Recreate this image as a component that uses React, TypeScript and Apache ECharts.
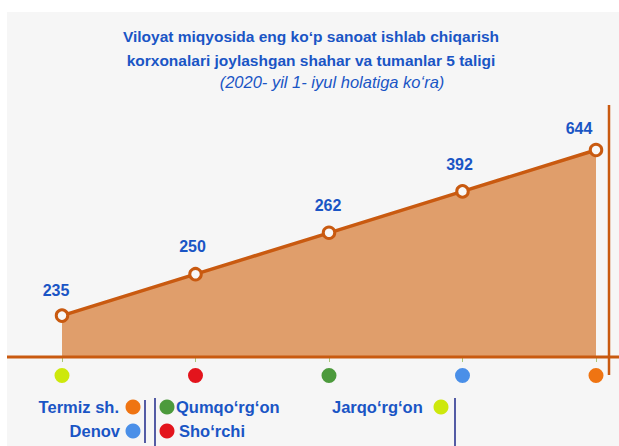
import React, { useEffect, useRef } from "react";
import * as echarts from "echarts";

const categories = ["Jarqo‘rg‘on", "Sho‘rchi", "Qumqo‘rg‘on", "Denov", "Termiz sh."];
const values = [235, 250, 262, 392, 644];
const dotColors = ["#cde80c", "#e3141c", "#4c9a3c", "#4a8fe8", "#ef7412"];
const titleLines = [
  "Viloyat miqyosida eng ko‘p sanoat ishlab chiqarish",
  "korxonalari joylashgan shahar va tumanlar 5 taligi",
];
const subTitle = "(2020- yil 1- iyul holatiga ko‘ra)";

// label nudges (style only)
const labelOffsets = [
  [-6, 2],
  [-3, 0],
  [-1, 0],
  [-3, 0],
  [-17, 6],
];

const FONT = "'Liberation Sans', Arial, sans-serif";
const BLUE = "#1a55c5";
const LINE = "#c95a10";
const NAVY = "#2b3591";

export default function App() {
  const ref = useRef<HTMLDivElement>(null);
  useEffect(() => {
    if (!ref.current) return;
    const chart = echarts.init(ref.current, undefined, { renderer: "svg" });
    const colorOf = (name: string) => dotColors[categories.indexOf(name)];

    const legendRows = [
      { name: "Termiz sh.", tx: 119, cx: 133, y: 407, align: "right" },
      { name: "Denov", tx: 120, cx: 133, y: 431, align: "right" },
      { name: "Qumqo‘rg‘on", tx: 176, cx: 167, y: 407, align: "left" },
      { name: "Sho‘rchi", tx: 179, cx: 167, y: 431, align: "left" },
      { name: "Jarqo‘rg‘on", tx: 332, cx: 441, y: 407, align: "left" },
    ];
    const graphics: any[] = [];
    titleLines.forEach((t, i) => {
      graphics.push({
        type: "text",
        x: 311,
        y: 36 + i * 24,
        z: 10,
        style: {
          text: t,
          fill: BLUE,
          font: `bold 15.5px ${FONT}`,
          textAlign: "center",
          textVerticalAlign: "middle",
        },
      });
    });
    graphics.push({
      type: "text",
      x: 332,
      y: 82,
      z: 10,
      style: {
        text: subTitle,
        fill: BLUE,
        font: `italic 16.5px ${FONT}`,
        textAlign: "center",
        textVerticalAlign: "middle",
      },
    });
    legendRows.forEach((r) => {
      graphics.push({
        type: "text",
        x: r.tx,
        y: r.y,
        z: 10,
        style: {
          text: r.name,
          fill: BLUE,
          font: `bold 16.5px ${FONT}`,
          textAlign: r.align,
          textVerticalAlign: "middle",
        },
      });
      graphics.push({
        type: "circle",
        z: 10,
        shape: { cx: r.cx, cy: r.y, r: 7.5 },
        style: { fill: colorOf(r.name) },
      });
    });
    [
      [145, 400, 443],
      [155, 398, 446],
      [455, 398, 446],
    ].forEach(([x, y1, y2]) =>
      graphics.push({
        type: "line",
        z: 10,
        shape: { x1: x, y1, x2: x, y2 },
        style: { stroke: NAVY, lineWidth: 1.6 },
      })
    );
    graphics.push({
      type: "line",
      z: 10,
      shape: { x1: 7, y1: 357, x2: 619, y2: 357 },
      style: { stroke: LINE, lineWidth: 3 },
    });
    graphics.push({
      type: "line",
      z: 10,
      shape: { x1: 609, y1: 105, x2: 609, y2: 375 },
      style: { stroke: LINE, lineWidth: 2.5 },
    });

    const rich: any = {};
    dotColors.forEach((c, i) => {
      rich["c" + i] = { width: 15, height: 15, borderRadius: 7.5, backgroundColor: c };
    });

    chart.setOption({
      animation: false,
      backgroundColor: "transparent",
      grid: { left: 62, right: 23, top: 150, bottom: 89 },
      xAxis: {
        type: "category",
        data: categories,
        boundaryGap: false,
        axisLine: { show: false },
        axisTick: { show: true, length: 5, lineStyle: { color: "#a9c77a", width: 1 } },
        axisLabel: {
          margin: 11,
          interval: 0,
          formatter: (_v: string, i: number) => `{c${i}| }`,
          rich,
        },
        splitLine: { show: false },
      },
      yAxis: {
        type: "category",
        data: ["", ...values.map(String)],
        boundaryGap: false,
        show: false,
      },
      series: [
        {
          type: "line",
          data: values.map((v, i) => ({
            value: String(v),
            label: { offset: labelOffsets[i] },
          })),
          symbol: "circle",
          symbolSize: 11.5,
          lineStyle: { color: LINE, width: 3.5 },
          itemStyle: { color: "#f8f8f8", borderColor: LINE, borderWidth: 3 },
          areaStyle: { color: "#e09e6b", opacity: 1, origin: "start" },
          label: {
            show: true,
            position: "top",
            distance: 12,
            color: BLUE,
            fontSize: 16,
            fontWeight: "bold",
            fontFamily: FONT,
            formatter: (p: any) => String(values[p.dataIndex]),
          },
          z: 2,
        },
      ],
      graphic: graphics,
    });
    return () => chart.dispose();
  }, []);

  return (
    <div style={{ position: "absolute", left: 0, top: 0, width: 619, height: 446, background: "#fff" }}>
      <div
        style={{ position: "absolute", left: 7, top: 12, width: 612, height: 434, background: "#f6f6f6" }}
      />
      <div ref={ref} style={{ position: "absolute", left: 0, top: 0, width: 619, height: 446 }} />
    </div>
  );
}
